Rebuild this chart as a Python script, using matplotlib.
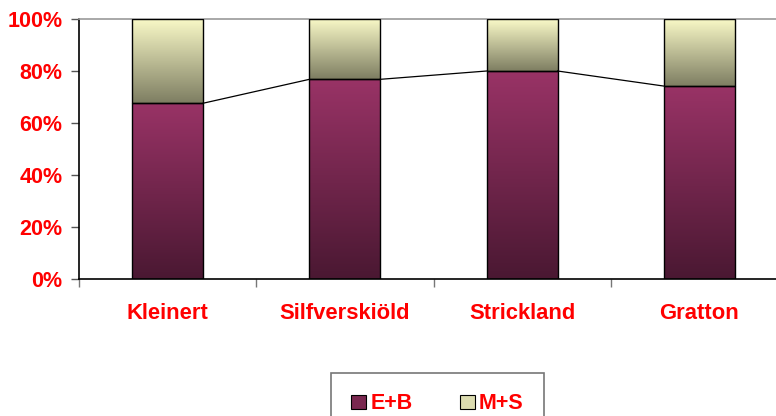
import numpy as np
import matplotlib
matplotlib.use("Agg")
import matplotlib.pyplot as plt
from matplotlib.patches import Patch
from matplotlib.colors import LinearSegmentedColormap

plt.rcParams['font.family'] = ['Liberation Sans', 'DejaVu Sans']

categories = ["Kleinert", "Silfverskiöld", "Strickland", "Gratton"]
eb_share = [67.6, 76.8, 80.0, 74.2]          # E+B, percent
ms_share = [100 - v for v in eb_share]        # M+S, percent
series_names = ["E+B", "M+S"]
ytick_values = [0, 20, 40, 60, 80, 100]

RED = "#ff0000"
eb_cmap = LinearSegmentedColormap.from_list("eb", ["#4a1832", "#993366"])
ms_cmap = LinearSegmentedColormap.from_list("ms", ["#7e7e62", "#fafac8"])

W, H = 776, 416
fig = plt.figure(figsize=(W / 100, H / 100), dpi=100)
ax = fig.add_axes([79 / W, 1 - 279 / H, (788 - 79) / W, 260 / H])

x = np.arange(len(categories))
bw = 0.4
bars_eb = ax.bar(x, eb_share, width=bw, facecolor="none", edgecolor="black",
                 linewidth=1.0, zorder=3)
bars_ms = ax.bar(x, ms_share, width=bw, bottom=eb_share, facecolor="none",
                 edgecolor="black", linewidth=1.0, zorder=3)

# vertical gradient fill inside every bar segment
grad = np.linspace(0, 1, 256).reshape(-1, 1)
for bars, cmap in ((bars_eb, eb_cmap), (bars_ms, ms_cmap)):
    for p in bars:
        x0, y0, w, h = p.get_x(), p.get_y(), p.get_width(), p.get_height()
        ax.imshow(grad, cmap=cmap, origin="lower", aspect="auto",
                  extent=(x0, x0 + w, y0, y0 + h), zorder=2,
                  interpolation="bilinear")

# series lines joining the E+B tops of neighbouring bars
for i in range(len(categories) - 1):
    ax.plot([x[i] + bw / 2, x[i + 1] - bw / 2], [eb_share[i], eb_share[i + 1]],
            color="black", linewidth=0.9, zorder=4)

ax.set_xlim(-0.5, len(categories) - 0.5)
ax.set_ylim(0, 100)

ax.set_yticks(ytick_values)
ax.set_yticklabels([f"{v}%" for v in ytick_values], color=RED,
                   fontsize=15.5, fontweight="bold")
ax.set_xticks(x)
ax.set_xticklabels(categories, color=RED, fontsize=15.8, fontweight="bold")
ax.tick_params(axis="x", length=0, pad=17)
ax.tick_params(axis="y", length=6, width=1, color="#555555", pad=6)
# category-boundary ticks on the x axis
ax.set_xticks(np.arange(-0.5, len(categories) + 0.5), minor=True)
ax.tick_params(axis="x", which="minor", length=6, width=1, color="#777777")

for side in ("left", "bottom"):
    ax.spines[side].set_color("black")
    ax.spines[side].set_linewidth(1.2)
ax.spines["top"].set_color("#9a9a9a")
ax.spines["top"].set_linewidth(1.2)
ax.spines["right"].set_visible(False)

handles = [Patch(facecolor="#7a2850", edgecolor="black", linewidth=0.8),
           Patch(facecolor="#dcdcb0", edgecolor="black", linewidth=0.8)]
leg = fig.legend(handles, series_names, loc="upper left",
                 bbox_to_anchor=(331 / W, 1 - 373 / H), ncol=2,
                 frameon=True, fancybox=False,
                 prop={"weight": "bold", "size": 15.5},
                 handlelength=0.68, handleheight=0.68, handletextpad=0.2,
                 columnspacing=2.2, borderpad=0.95, borderaxespad=0)
for t in leg.get_texts():
    t.set_color(RED)
leg.get_frame().set_edgecolor("#555555")
leg.get_frame().set_linewidth(1.2)

fig.savefig("out.png", dpi=100)
